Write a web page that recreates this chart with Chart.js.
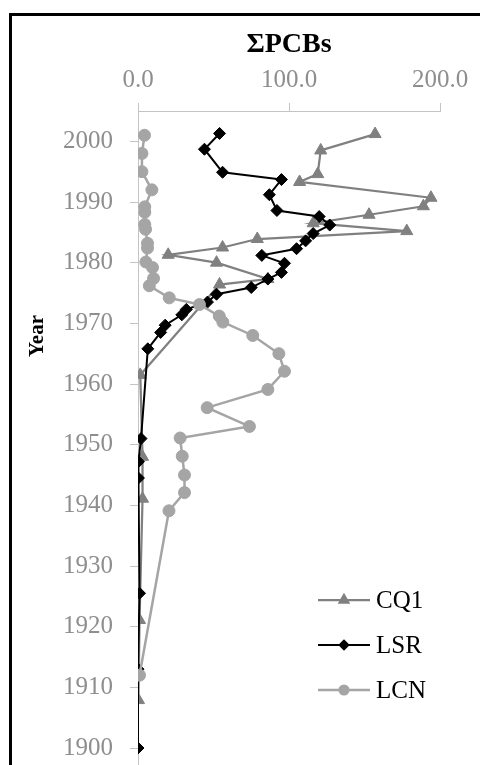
<!DOCTYPE html>
<html>
<head>
<meta charset="utf-8">
<title>PCBs by year</title>
<script src="https://cdn.jsdelivr.net/npm/chart.js@4.4.0/dist/chart.umd.min.js"></script>
<style>
    html, body {
        margin: 0;
        padding: 0;
        width: 480px;
        height: 765px;
        overflow: hidden;
        background: #fff;
    }
    #frame {
        position: absolute;
        left: 9px;
        top: 13px;
        width: 600px;
        height: 900px;
        border: 3px solid #000;
    }
    /* a little taller than the window: the figure is cut off at the bottom */
    #chart-wrap {
        position: absolute;
        left: 0;
        top: 0;
        width: 480px;
        height: 773px;
    }
</style>
</head>
<body>
<div id="frame"></div>
<div id="chart-wrap"><canvas id="pcb-chart"></canvas></div>
<script>
// Series values (x = ΣPCBs, y = year)
const cq1Years = [2001.2, 1998.5, 1994.6, 1993.3, 1990.7, 1989.3, 1987.9, 1986.5, 1985.2, 1983.9,
    1982.5, 1981.3, 1980.0, 1977.3, 1976.4, 1961.5, 1948.0, 1941.1, 1921.1, 1907.9];
const cq1Values = [157, 121, 119, 107, 194, 189, 153, 116, 178, 79,
    56, 20, 52, 86, 54, 1.5, 3, 3, 1, 0.3];

const lsrYears = [2001.3, 1998.7, 1994.9, 1993.7, 1991.2, 1988.6, 1987.6, 1986.2, 1984.8, 1983.6,
    1982.3, 1981.2, 1979.9, 1978.4, 1977.3, 1975.9, 1974.8, 1973.5, 1972.3, 1971.4,
    1969.7, 1968.5, 1965.8, 1951.0, 1947.2, 1944.5, 1925.5, 1913.0, 1900.0];
const lsrValues = [54, 44, 56, 95, 87, 92, 120, 127, 116, 111,
    105, 82, 97, 95, 86, 75, 52, 46, 32, 29,
    18, 15, 6.5, 2, 0.3, 0.3, 1, 0, 0];

const lcnYears = [2001.0, 1998.0, 1995.0, 1992.0, 1989.2, 1988.3, 1986.3, 1985.5, 1983.2, 1982.4,
    1980.1, 1979.2, 1977.4, 1976.2, 1974.2, 1973.1, 1971.2, 1970.2, 1968.0, 1965.0,
    1962.1, 1959.1, 1956.1, 1953.0, 1951.1, 1948.1, 1945.0, 1942.1, 1939.1, 1912.0];
const lcnValues = [4.3, 2.6, 2.6, 9.2, 4.5, 4.5, 4.5, 5, 6.3, 6.3,
    5.2, 9.6, 10.3, 7.5, 20.7, 40.7, 53.8, 56.2, 76, 93.3,
    97, 86, 45.8, 73.8, 27.9, 29.3, 30.8, 30.8, 20.5, 1];

const seriesNames = ['CQ1', 'LSR', 'LCN'];
const pcbTicks = [0, 100, 200];
const yearTicks = [1900, 1910, 1920, 1930, 1940, 1950, 1960, 1970, 1980, 1990, 2000];

const SERIF = "'Liberation Serif', 'Times New Roman', serif";
const TICK_GREY = '#8e8e8e';
const AXIS_GREY = '#c4c4c4';

// Function to pair values with years as points
function toPoints(years, values) {
    return years.map((y, i) => ({ x: values[i], y: y }));
}

// Draws the "Year" title a bit above the middle, as in the figure
const yearTitlePlugin = {
    id: 'yearTitle',
    afterDraw(chart) {
        const ctx = chart.ctx;
        ctx.save();
        ctx.translate(38, chart.chartArea.top + 225);
        ctx.rotate(-Math.PI / 2);
        ctx.font = 'bold 21px ' + SERIF;
        ctx.fillStyle = '#000';
        ctx.textAlign = 'center';
        ctx.textBaseline = 'middle';
        ctx.fillText('Year', 0, 0);
        ctx.restore();
    }
};

// Legend with a line and marker sample for each series
const lineLegendPlugin = {
    id: 'lineLegend',
    afterDatasetsDraw(chart) {
        const ctx = chart.ctx;
        const area = chart.chartArea;
        const startX = area.right - 122;
        const startY = area.top + 489;
        ctx.save();
        seriesNames.forEach((name, i) => {
            const ds = chart.data.datasets.find(d => d.label === name);
            const y = startY + i * 45;
            ctx.strokeStyle = ds.borderColor;
            ctx.lineWidth = ds.borderWidth;
            ctx.beginPath();
            ctx.moveTo(startX, y);
            ctx.lineTo(startX + 52, y);
            ctx.stroke();
            ctx.fillStyle = ds.pointBackgroundColor;
            ctx.strokeStyle = ds.pointBorderColor;
            Chart.helpers.drawPoint(ctx, {
                pointStyle: ds.pointStyle,
                radius: ds.pointRadius * 0.72,
                rotation: 0,
                borderWidth: 1
            }, startX + 26, y);
            ctx.font = '25px ' + SERIF;
            ctx.fillStyle = '#000';
            ctx.textAlign = 'left';
            ctx.textBaseline = 'middle';
            ctx.fillText(name, startX + 58, y + 1);
        });
        ctx.restore();
    }
};

function initializeChart() {
    const ctx = document.getElementById('pcb-chart').getContext('2d');
    return new Chart(ctx, {
        type: 'scatter',
        data: {
            datasets: [{
                label: 'CQ1',
                data: toPoints(cq1Years, cq1Values),
                showLine: true,
                borderColor: '#808080',
                borderWidth: 2.25,
                pointStyle: 'triangle',
                pointRadius: 7,
                pointBackgroundColor: '#808080',
                pointBorderColor: '#808080',
                pointBorderWidth: 1,
                order: 2
            }, {
                label: 'LSR',
                data: toPoints(lsrYears, lsrValues),
                showLine: true,
                borderColor: '#000000',
                borderWidth: 2,
                pointStyle: 'rectRot',
                pointRadius: 6,
                pointBackgroundColor: '#000000',
                pointBorderColor: '#000000',
                pointBorderWidth: 1,
                order: 1
            }, {
                label: 'LCN',
                data: toPoints(lcnYears, lcnValues),
                showLine: true,
                borderColor: '#a5a5a5',
                borderWidth: 2.5,
                pointStyle: 'circle',
                pointRadius: 6,
                pointBackgroundColor: '#a5a5a5',
                pointBorderColor: '#a5a5a5',
                pointBorderWidth: 1,
                order: 0
            }]
        },
        options: {
            responsive: true,
            maintainAspectRatio: false,
            animation: false,
            layout: {
                padding: { left: 0, right: 40, top: 0, bottom: 0 }
            },
            plugins: {
                legend: { display: false },
                tooltip: { enabled: false }
            },
            scales: {
                x: {
                    type: 'linear',
                    position: 'top',
                    min: 0,
                    max: 200,
                    afterBuildTicks: scale => {
                        scale.ticks = pcbTicks.map(v => ({ value: v }));
                    },
                    afterFit: scale => {
                        scale.height = 111;
                        scale.paddingLeft = 0;
                        scale.paddingRight = 0;
                    },
                    ticks: {
                        color: TICK_GREY,
                        font: { family: SERIF, size: 25 },
                        padding: 8,
                        maxRotation: 0,
                        callback: value => value.toFixed(1)
                    },
                    grid: {
                        drawOnChartArea: false,
                        drawTicks: true,
                        tickLength: 8,
                        tickColor: AXIS_GREY
                    },
                    border: { display: true, color: AXIS_GREY, width: 1 },
                    title: {
                        display: true,
                        text: 'ΣPCBs',
                        color: '#000',
                        font: { family: SERIF, size: 28, weight: 'bold' },
                        padding: { top: 28, bottom: 0 }
                    }
                },
                y: {
                    type: 'linear',
                    position: 'left',
                    min: 1897.2,
                    max: 2005,
                    afterBuildTicks: scale => {
                        scale.ticks = yearTicks.map(v => ({ value: v }));
                    },
                    afterFit: scale => {
                        scale.width = 138;
                        scale.paddingTop = 0;
                        scale.paddingBottom = 0;
                    },
                    ticks: {
                        color: TICK_GREY,
                        font: { family: SERIF, size: 25 },
                        padding: 17,
                        callback: value => String(value)
                    },
                    grid: {
                        drawOnChartArea: false,
                        drawTicks: true,
                        tickLength: 8,
                        tickColor: AXIS_GREY
                    },
                    border: { display: true, color: AXIS_GREY, width: 1 }
                }
            }
        },
        plugins: [yearTitlePlugin, lineLegendPlugin]
    });
}

document.addEventListener('DOMContentLoaded', function() {
    initializeChart();
});
</script>
</body>
</html>
